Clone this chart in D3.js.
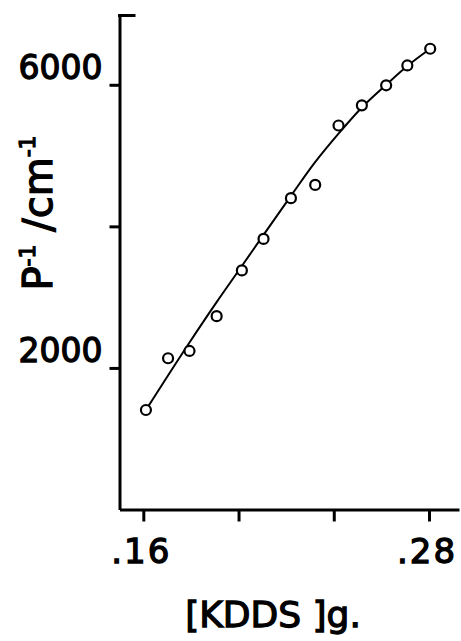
<!DOCTYPE html>
<html>
<head>
<meta charset="utf-8">
<script src="https://cdn.jsdelivr.net/npm/d3@7"></script>
<style>
  body { margin: 0; background: #fff; }
  svg { display: block; }
  text { font-family: "DejaVu Sans", sans-serif; fill: #000; }
</style>
</head>
<body>
<script>
const width = 461;
const height = 641;

// DATA
const kdds = [0.1611, 0.1704, 0.1794, 0.1908, 0.2014, 0.2105, 0.222, 0.2322, 0.242, 0.2518, 0.262, 0.2709, 0.2805];
const pInv = [1406, 2137, 2240, 2731, 3378, 3823, 4398, 4586, 5425, 5710, 5993, 6273, 6509];

// fitted curve
const fitX = [0.1611, 0.1794, 0.1908, 0.2014, 0.2105, 0.222, 0.232, 0.242, 0.2518, 0.262, 0.2709, 0.2805];
const fitY = [1406, 2360, 2930, 3440, 3880, 4430, 4900, 5310, 5680, 6000, 6265, 6509];

const xTicks = [0.16, 0.2, 0.24, 0.28];
const xTickLabels = ['.16', '', '', '.28'];
const yTicks = [2000, 4000, 6000];
const yTickLabels = ['2000', '', '6000'];

// SCALES
const x = d3.scaleLinear().domain([0.15, 0.2926]).range([119.5, 459]);
const y = d3.scaleLinear().domain([0, 7000]).range([509.5, 14]);

const svg = d3
  .select('body')
  .append('svg')
  .attr('width', width)
  .attr('height', height);

// AXES
svg
  .append('g')
  .attr('transform', `translate(0, ${y(0)})`)
  .call(d3.axisBottom(x).tickValues(xTicks).tickSize(12).tickSizeOuter(0).tickFormat(''));

svg
  .append('g')
  .attr('transform', `translate(${x(0.15)}, 0)`)
  .call(d3.axisLeft(y).tickValues(yTicks).tickSize(10).tickSizeOuter(0).tickFormat(''));

svg.selectAll('.domain').attr('stroke', '#000').attr('stroke-width', 3);
svg.selectAll('.tick line').attr('stroke', '#000').attr('stroke-width', 3);

// little cap at the top of the y axis
svg
  .append('line')
  .attr('x1', x(0.15) - 1.5)
  .attr('x2', x(0.15) + 16)
  .attr('y1', y(7000) + 1.5)
  .attr('y2', y(7000) + 1.5)
  .attr('stroke', '#000')
  .attr('stroke-width', 3);

// TICK LABELS
svg
  .selectAll('text.ylab')
  .data(yTicks)
  .join('text')
  .attr('class', 'ylab')
  .attr('x', x(0.15) - 17)
  .attr('y', (d) => y(d) - 6)
  .attr('text-anchor', 'end')
  .attr('font-size', 33)
  .attr('stroke', '#000')
  .attr('stroke-width', 1.3)
  .text((d, i) => yTickLabels[i]);

svg
  .selectAll('text.xlab')
  .data(xTicks)
  .join('text')
  .attr('class', 'xlab')
  .attr('x', (d) => x(d) - 2)
  .attr('y', y(0) + 53)
  .attr('text-anchor', 'middle')
  .attr('font-size', 34)
  .attr('letter-spacing', 2)
  .attr('stroke', '#000')
  .attr('stroke-width', 1.3)
  .text((d, i) => xTickLabels[i]);

// AXIS TITLES
svg
  .append('text')
  .attr('x', 273)
  .attr('y', 627)
  .attr('text-anchor', 'middle')
  .attr('font-size', 36)
  .attr('stroke', '#000')
  .attr('stroke-width', 1.3)
  .text('[KDDS ]g.');

const yTitle = svg
  .append('text')
  .attr('transform', 'translate(52, 213) rotate(-90)')
  .attr('text-anchor', 'middle')
  .attr('font-size', 40)
  .attr('stroke', '#000')
  .attr('stroke-width', 1.3);
yTitle.append('tspan').text('P');
yTitle.append('tspan').attr('font-size', 22).attr('dy', -17).text('-1');
yTitle.append('tspan').attr('dy', 17).text(' /cm');
yTitle.append('tspan').attr('font-size', 22).attr('dy', -17).text('-1');

// FITTED CURVE
const line = d3
  .line()
  .x((d, i) => x(fitX[i]))
  .y((d) => y(d))
  .curve(d3.curveMonotoneX);

svg
  .append('path')
  .attr('d', line(fitY))
  .attr('fill', 'none')
  .attr('stroke', '#000')
  .attr('stroke-width', 2);

// POINTS
svg
  .selectAll('circle.pt')
  .data(pInv)
  .join('circle')
  .attr('class', 'pt')
  .attr('cx', (d, i) => x(kdds[i]))
  .attr('cy', (d) => y(d))
  .attr('r', 5)
  .attr('fill', '#fff')
  .attr('stroke', '#000')
  .attr('stroke-width', 2.2);
</script>
</body>
</html>
